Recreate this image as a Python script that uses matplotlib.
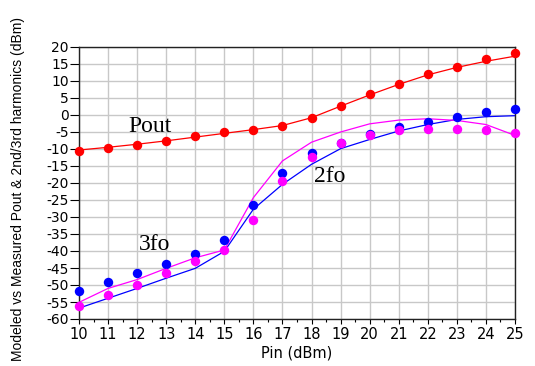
import matplotlib
matplotlib.use('Agg')
import matplotlib.pyplot as plt
from matplotlib.ticker import MultipleLocator

plt.rcParams['axes.unicode_minus'] = False

# input power sweep (dBm)
pin = [10, 11, 12, 13, 14, 15, 16, 17, 18, 19, 20, 21, 22, 23, 24, 25]

# fundamental output: model line and measured points
pout_model = [-10.3, -9.5, -8.6, -7.6, -6.5, -5.4, -4.3, -3.1, -0.8, 2.6, 5.9, 9.0, 11.8, 14.0, 15.8, 17.3]
pout_meas = [-10.6, -9.6, -8.7, -7.6, -6.3, -5.1, -4.3, -3.3, -0.8, 2.7, 6.1, 9.1, 12.0, 14.2, 16.5, 18.2]

# 2nd harmonic: model line and measured points
h2_model = [-56.8, -53.9, -51.0, -48.0, -45.1, -40.1, -27.7, -20.4, -14.5, -9.9, -7.2, -4.7, -2.8, -1.3, -0.5, -0.2]
h2_meas = [-51.7, -49.2, -46.6, -43.9, -40.9, -36.8, -26.5, -17.0, -11.3, -8.1, -5.5, -3.5, -2.0, -0.5, 0.9, 1.9]

# 3rd harmonic: model line and measured points
h3_model = [-55.1, -51.0, -48.4, -45.1, -42.0, -39.7, -24.3, -13.5, -8.0, -5.0, -2.6, -1.5, -1.1, -1.6, -2.8, -6.0]
h3_meas = [-56.2, -52.9, -49.9, -46.4, -43.0, -39.7, -31.0, -19.4, -12.3, -8.2, -5.9, -4.5, -4.2, -4.0, -4.5, -5.4]

fig = plt.figure(figsize=(5.35, 3.66), dpi=100)
ax = fig.add_axes([79 / 535, 47 / 366, 436 / 535, 272 / 366])

ax.plot(pin, pout_model, color='#ff0000', lw=0.9, zorder=3)
ax.plot(pin, h2_model, color='#0000ff', lw=0.9, zorder=3)
ax.plot(pin, h3_model, color='#ff00ff', lw=0.9, zorder=3)
ax.plot(pin, pout_meas, 'o', color='#ff0000', ms=6.8, mew=0, zorder=4, clip_on=False)
ax.plot(pin, h2_meas, 'o', color='#0000ff', ms=6.8, mew=0, zorder=4, clip_on=False)
ax.plot(pin, h3_meas, 'o', color='#ff00ff', ms=6.8, mew=0, zorder=5, clip_on=False)

ax.set_xlim(10, 25)
ax.set_ylim(-60, 20)
ax.xaxis.set_major_locator(MultipleLocator(1))
ax.xaxis.set_minor_locator(MultipleLocator(0.5))
ax.yaxis.set_major_locator(MultipleLocator(5))
ax.grid(True, which='major', color='#c8c8c8', lw=1.0)
ax.set_axisbelow(True)

for s in ax.spines.values():
    s.set_color('#222222')
    s.set_linewidth(1.0)

ax.tick_params(axis='y', direction='out', length=6.5, width=0.8, pad=1, labelsize=10)
ax.tick_params(axis='x', which='major', direction='out', length=3.5, width=0.8, pad=2, labelsize=10.5)
ax.tick_params(axis='x', which='minor', direction='out', length=2, width=0.8)

# curve labels
ax.text(12.44, -3.4, 'Pout', family='Liberation Serif', fontsize=17, ha='center', va='center')
ax.text(12.61, -38.0, '3fo', family='Liberation Serif', fontsize=17, ha='center', va='center')
ax.text(18.63, -18.0, '2fo', family='Liberation Serif', fontsize=17, ha='center', va='center')

fig.text(297 / 535, 1 - 353 / 366, 'Pin (dBm)', fontsize=10.5, ha='center', va='center')
fig.text(18 / 535, (366 - 361) / 366, 'Modeled vs Measured Pout & 2nd/3rd harmonics (dBm)',
         family='Liberation Sans', fontsize=10, rotation=90, ha='center', va='bottom')

fig.savefig('out.png', dpi=100)
